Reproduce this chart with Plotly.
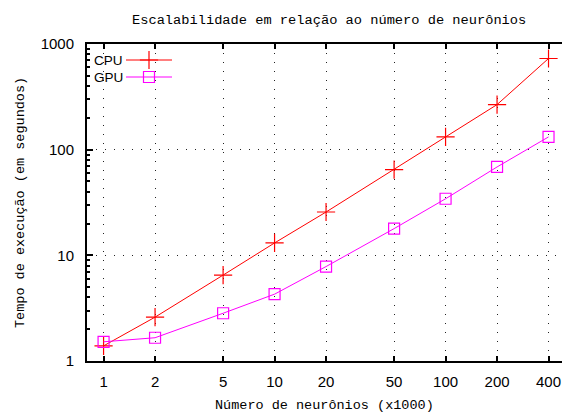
import math
import plotly.graph_objects as go

# ---- data ----
neurons = [1, 2, 5, 10, 20, 50, 100, 200, 400]
cpu_time = [1.39, 2.6, 6.5, 13.1, 25.7, 64.6, 132, 267, 729]
gpu_time = [1.52, 1.66, 2.83, 4.29, 7.83, 17.9, 34.3, 68.6, 132]
x_ticks = [1, 2, 5, 10, 20, 50, 100, 200, 400]
y_ticks = [1, 10, 100, 1000]
series_names = ["CPU", "GPU"]
title_text = "Escalabilidade em relação ao número de neurônios"
x_title = "Número de neurônios (x1000)"
y_title = "Tempo de execução (em segundos)"

# ---- layout constants ----
W, H = 562, 413
ML, MR, MT, MB = 87, 0, 44, 52
PW = W - ML - MR
PH = H - MT - MB
DECADE_PX = 171.0
x_lo = math.log10(0.8)
x_hi = x_lo + PW / DECADE_PX


def px_x(px):
    return (px - ML) / PW


def px_y(py):
    return (H - MB - py) / PH


RED = "#ff0000"
MAG = "#ff00ff"
MONO = "Liberation Mono, DejaVu Sans Mono, monospace"
SANS = "Liberation Sans Narrow, Liberation Sans, Arial, sans-serif"
GRID_DASH = "1px,8px"

fig = go.Figure()

fig.add_trace(go.Scatter(
    x=neurons, y=cpu_time, name=series_names[0], mode="lines+markers",
    line=dict(color=RED, width=1),
    marker=dict(symbol="cross-thin-open", size=13, line=dict(color=RED, width=1.2)),
))
fig.add_trace(go.Scatter(
    x=neurons, y=gpu_time, name=series_names[1], mode="lines+markers",
    line=dict(color=MAG, width=1),
    marker=dict(symbol="square-open", size=11, color=MAG, line=dict(color=MAG, width=1.2)),
))

# ---- legend drawn gnuplot-style (text left, sample right) on pixel overlay axes ----
leg_rows = [(60, RED, "cross-thin-open", 13), (77, MAG, "square-open", 11)]
annots = []
for (py, col, sym, sz), name in zip(leg_rows, series_names):
    fig.add_trace(go.Scatter(
        x=[126, 149, 172], y=[py, py, py], xaxis="x2", yaxis="y2",
        mode="lines", line=dict(color=col, width=1), showlegend=False, hoverinfo="skip",
    ))
    fig.add_trace(go.Scatter(
        x=[149], y=[py], xaxis="x2", yaxis="y2", mode="markers",
        marker=dict(symbol=sym, size=sz, color=col, line=dict(color=col, width=1.2)),
        showlegend=False, hoverinfo="skip",
    ))
    annots.append(dict(x=92, y=py, xref="x2", yref="y2", text=name, showarrow=False,
                       xanchor="left", yanchor="middle",
                       font=dict(family=SANS, size=13.5, color="black")))

annots += [
    dict(text=title_text, x=px_x(329), y=px_y(20), xref="paper", yref="paper",
         xanchor="center", yanchor="middle", showarrow=False,
         font=dict(family=MONO, size=13.7, color="black")),
    dict(text=x_title, x=px_x(324.5), y=px_y(405), xref="paper", yref="paper",
         xanchor="center", yanchor="middle", showarrow=False,
         font=dict(family=MONO, size=13.5, color="black")),
    dict(text=y_title, x=px_x(20), y=px_y(203), xref="paper", yref="paper",
         xanchor="center", yanchor="middle", showarrow=False, textangle=-90,
         font=dict(family=MONO, size=13.5, color="black")),
]

fig.update_layout(
    width=W, height=H,
    margin=dict(l=ML, r=MR, t=MT, b=MB, pad=0, autoexpand=False),
    paper_bgcolor="white", plot_bgcolor="white",
    showlegend=False,
    xaxis=dict(
        type="log", range=[x_lo, x_hi],
        tickvals=x_ticks, ticktext=[str(v) for v in x_ticks],
        ticks="inside", ticklen=5, tickwidth=1.5, tickcolor="black",
        showline=True, linecolor="black", linewidth=2, mirror="allticks",
        showgrid=True, gridcolor="#222222", gridwidth=1, griddash=GRID_DASH,
        zeroline=False,
        tickfont=dict(family=SANS, size=15, color="black"),
        ticklabelstandoff=6,
    ),
    yaxis=dict(
        type="log", range=[0, 3],
        tickvals=y_ticks, ticktext=[str(v) for v in y_ticks],
        ticks="inside", ticklen=6, tickwidth=1.5, tickcolor="black",
        showline=True, linecolor="black", linewidth=2, mirror=False,
        showgrid=True, gridcolor="#222222", gridwidth=1, griddash=GRID_DASH,
        zeroline=False,
        minor=dict(ticks="inside", ticklen=3, tickwidth=1.5, tickcolor="black",
                   dtick="D1", showgrid=False),
        tickfont=dict(family=SANS, size=15, color="black"),
        ticklabelstandoff=8,
    ),
    xaxis2=dict(overlaying="x", range=[ML, W - MR], visible=False, fixedrange=True),
    yaxis2=dict(overlaying="y", range=[H - MB, MT], visible=False, fixedrange=True),
    annotations=annots,
)

fig.write_html("out.html", config={"displayModeBar": False},
               post_script="document.body.style.margin='0';document.body.style.overflow='hidden';")
